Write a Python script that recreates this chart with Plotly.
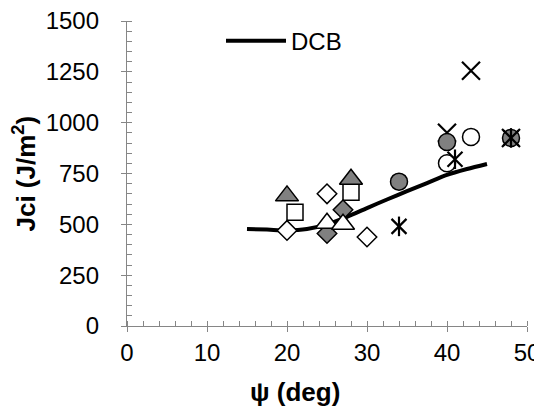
import plotly.graph_objects as go

# ---- data ----
dcb_x = [15, 17.5, 20, 22.5, 25, 27.5, 30, 32.5, 35, 37.5, 40, 42.5, 45]
dcb_y = [477, 474, 470, 477, 500, 537, 580, 622, 663, 703, 743, 772, 797]

gray_tri_x = [20, 28]
gray_tri_y = [640, 722]
open_sq_x = [21, 28]
open_sq_y = [560, 658]
open_dia_x = [20, 25, 30]
open_dia_y = [470, 650, 438]
gray_dia_x = [25, 27]
gray_dia_y = [455, 572]
open_tri_x = [25, 27]
open_tri_y = [505, 500]
gray_circ_x = [34, 40, 48]
gray_circ_y = [710, 905, 925]
open_circ_x = [40, 43]
open_circ_y = [800, 930]
cross_x = [40, 43, 48]
cross_y = [950, 1255, 925]
aster_x = [34, 41, 48]
aster_y = [490, 820, 925]

x_ticks = [0, 10, 20, 30, 40, 50]
y_ticks = [0, 250, 500, 750, 1000, 1250, 1500]

FONT = "Liberation Sans, Arial, sans-serif"
GRAY = "#808080"
AX = "#868686"

fig = go.Figure()

fig.add_trace(go.Scatter(x=dcb_x, y=dcb_y, mode="lines", name="DCB",
                         line=dict(color="black", width=4, shape="spline", smoothing=0.8)))

def mk(x, y, symbol, size, fill, lw=1.5):
    fig.add_trace(go.Scatter(x=x, y=y, mode="markers", showlegend=False,
                             marker=dict(symbol=symbol, size=size, color=fill,
                                         line=dict(color="black", width=lw))))

mk(open_sq_x, open_sq_y, "square", 16, "white")
mk(gray_tri_x, gray_tri_y, "triangle-up", 20, GRAY)
mk(open_dia_x, open_dia_y, "diamond", 15, "white")
mk(gray_dia_x, gray_dia_y, "diamond", 15, GRAY)
mk(open_tri_x, open_tri_y, "triangle-up", 20, "white")
mk(cross_x, cross_y, "x-thin-open", 18, "black", 2.2)
mk(gray_circ_x, gray_circ_y, "circle", 17, GRAY)
mk(open_circ_x, open_circ_y, "circle", 17, "white")
mk(aster_x, aster_y, "x-thin-open", 15, "black", 2.2)
mk(aster_x, aster_y, "line-ns-open", 14, "black", 2.2)

tickfont = dict(family=FONT, size=24, color="black")

# page body has an 8px default margin, so the figure is sized to fit inside the window
fig.update_layout(
    width=534, height=402,
    margin=dict(l=119, r=15, t=12, b=84),
    paper_bgcolor="white", plot_bgcolor="white",
    font=dict(family=FONT, size=24, color="black"),
    showlegend=True,
    legend=dict(x=0.235, y=0.931, xanchor="left", yanchor="middle",
                bgcolor="rgba(0,0,0,0)", font=dict(family=FONT, size=24),
                itemwidth=60),
    xaxis=dict(range=[0, 50], tickvals=x_ticks, ticks="outside", ticklen=5,
               tickcolor=AX, showline=True, linecolor=AX, linewidth=1.3,
               showgrid=False, zeroline=False, tickfont=tickfont, automargin=False,
               ticklabeloverflow="allow",
               minor=dict(dtick=2, ticks="inside", ticklen=5, tickcolor=AX)),
    yaxis=dict(range=[0, 1500], tickvals=y_ticks, ticks="outside", ticklen=5,
               tickcolor=AX, showline=True, linecolor=AX, linewidth=1.3,
               showgrid=False, zeroline=False, tickfont=tickfont, automargin=False,
               ticklabelstandoff=17, ticklabeloverflow="allow",
               minor=dict(dtick=50, ticks="inside", ticklen=5, tickcolor=AX)),
    xaxis2=dict(overlaying="x", range=[0, 50], tickvals=x_ticks, ticks="inside",
                ticklen=5, tickcolor=AX, showticklabels=False, showline=False,
                showgrid=False, zeroline=False, side="bottom", anchor="y",
                automargin=False),
    yaxis2=dict(overlaying="y", range=[0, 1500], tickvals=y_ticks, ticks="inside",
                ticklen=5, tickcolor=AX, showticklabels=False, showline=False,
                showgrid=False, zeroline=False, side="left", anchor="x",
                automargin=False),
    annotations=[
        dict(text="<b>Jci (J/m<sup>2</sup>)</b>", xref="paper", yref="paper",
             x=-0.255, y=0.50, xanchor="center", yanchor="middle", textangle=-90,
             showarrow=False, font=dict(family=FONT, size=26)),
        dict(text="<b>ψ (deg)</b>", xref="paper", yref="paper",
             x=0.42, y=-0.215, xanchor="center", yanchor="middle",
             showarrow=False, font=dict(family=FONT, size=26)),
    ],
)

fig.write_html("out.html")
